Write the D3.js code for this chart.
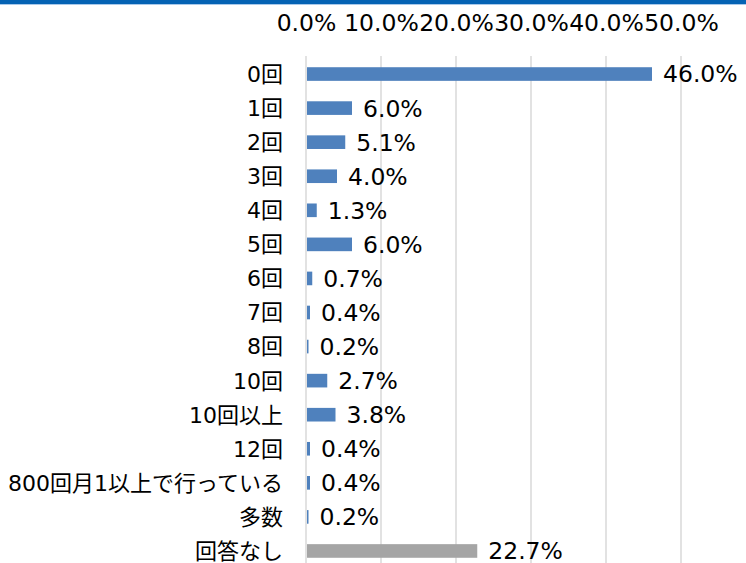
<!DOCTYPE html>
<html>
<head>
<meta charset="utf-8">
<script src="https://cdn.jsdelivr.net/npm/d3@7"></script>
<style>
  body { margin: 0; background: #fff; }
  svg { display: block; }
  text { font-family: "DejaVu Sans", "Noto Sans CJK JP", sans-serif; fill: #000; }
</style>
</head>
<body>
<svg id="chart" width="746" height="563"></svg>
<script>
const categories = ['0回', '1回', '2回', '3回', '4回', '5回', '6回', '7回', '8回', '10回',
  '10回以上', '12回', '800回月1以上で行っている', '多数', '回答なし'];
const values = [46.0, 6.0, 5.1, 4.0, 1.3, 6.0, 0.7, 0.4, 0.2, 2.7, 3.8, 0.4, 0.4, 0.2, 22.7];
const tickValues = [0, 10, 20, 30, 40, 50];

const width = 746;
const height = 563;
const svg = d3.select('#chart');

// header band
svg.append('rect').attr('x', 0).attr('y', 0).attr('width', width).attr('height', 4).attr('fill', '#0563b4');
svg.append('rect').attr('x', 0).attr('y', 4).attr('width', width).attr('height', 1).attr('fill', '#a9c9ea');

const x = d3.scaleLinear().domain([0, 50]).range([306, 681]);
const y = d3.scaleBand().domain(categories).range([57, 568]).paddingInner(0.6).paddingOuter(0.3);

// gridlines
svg.append('g')
  .selectAll('line')
  .data(tickValues)
  .join('line')
  .attr('x1', d => x(d)).attr('x2', d => x(d))
  .attr('y1', 56).attr('y2', height)
  .attr('stroke', '#d9d9d9').attr('stroke-width', 1.5);

// top axis labels
const axis = svg.append('g')
  .attr('transform', 'translate(0,31)')
  .call(d3.axisTop(x).tickValues(tickValues).tickFormat(d => d.toFixed(1) + '%').tickSize(0).tickPadding(0));
axis.select('.domain').remove();
axis.selectAll('text')
  .style('font-family', '"DejaVu Sans", sans-serif')
  .style('font-size', '23.5px')
  .attr('fill', '#000');

const rows = categories.map((c, i) => ({ c, v: values[i], last: i === categories.length - 1 }));

svg.append('g')
  .selectAll('rect')
  .data(rows)
  .join('rect')
  .attr('x', x(0) + 1)
  .attr('y', d => y(d.c))
  .attr('width', d => Math.max(1, x(d.v) - x(0)))
  .attr('height', y.bandwidth())
  .attr('fill', d => d.last ? '#a5a5a5' : '#4f81bd');

// value labels
svg.append('g')
  .selectAll('text')
  .data(rows)
  .join('text')
  .attr('x', d => x(d.v) + 12)
  .attr('y', d => y(d.c) + y.bandwidth() / 2)
  .attr('dy', '0.36em')
  .style('font-size', '23.5px')
  .text(d => d.v.toFixed(1) + '%');

// category labels
svg.append('g')
  .selectAll('text')
  .data(rows)
  .join('text')
  .attr('x', 283)
  .attr('y', d => y(d.c) + y.bandwidth() / 2)
  .attr('dy', '0.36em')
  .attr('text-anchor', 'end')
  .style('font-size', '22px')
  .text(d => d.c);
</script>
</body>
</html>
